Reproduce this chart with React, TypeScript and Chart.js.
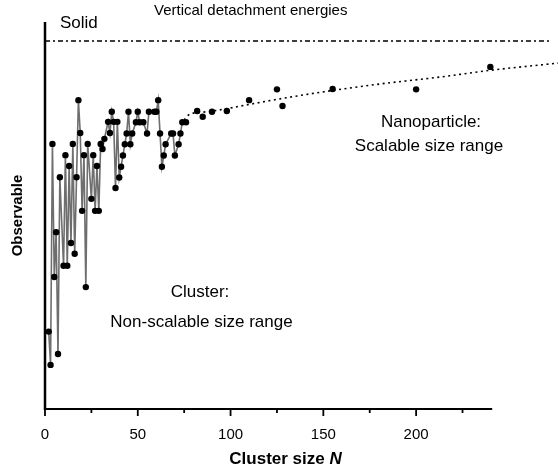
import { useEffect, useRef } from 'react';
import { Chart, registerables } from 'chart.js';

Chart.register(...registerables);

const FONT = '"Liberation Sans", Arial, Helvetica, sans-serif';

// Cluster regime: size N and observable (arbitrary units)
const clusterN = [
  2, 3, 4, 5, 6, 7, 8, 10, 11, 12, 13, 14, 15, 16, 17, 18, 19, 20, 21, 22, 23, 25,
  26, 27, 28, 29, 30, 31, 32, 34, 35, 36, 37, 38, 39, 40, 41, 42, 43, 44, 45, 46,
  47, 49, 50, 51, 53, 55, 56, 59, 60, 61, 62, 63, 64, 65, 68, 69, 70, 72, 73, 74, 76,
];
const clusterVal = [
  20.0, 11.4, 68.5, 34.1, 45.7, 14.2, 59.9, 37.0, 65.6, 37.0, 62.8, 42.9, 68.5, 40.1,
  59.9, 79.8, 71.3, 51.2, 65.6, 31.5, 68.5, 54.3, 65.6, 51.2, 62.8, 51.2, 68.5, 67.2,
  69.8, 74.2, 71.3, 76.8, 74.2, 57.1, 74.2, 59.8, 62.6, 65.5, 68.4, 71.2, 76.8, 68.4,
  71.2, 74.1, 76.8, 74.1, 74.1, 71.2, 76.8, 76.8, 76.8, 79.8, 71.2, 62.6, 65.5, 68.4,
  71.2, 71.2, 65.5, 68.4, 71.2, 74.1, 74.1,
];

// Nanoparticle regime
const nanoN = [82, 85, 90, 98, 110, 125, 128, 155, 200, 240];
const nanoVal = [77.0, 75.5, 76.8, 77.0, 79.8, 82.6, 78.3, 82.7, 82.6, 88.4];

// Scaling trend through the nanoparticle points
const fitN = [74.9, 78.1, 85.1, 94.3, 110, 121.4, 136, 154.9, 180.8, 213.2, 239.7, 277];
const fitVal = [74.7, 76.2, 76.7, 77.3, 78.7, 79.7, 80.9, 82.3, 84.0, 85.8, 87.5, 89.4];

// Bulk (solid) limit
const solidN = [0, 271.6];
const solidVal = [95.1, 95.1];

// Axis
const xMax = 277;
const xAxisEnd = 241;
const xTickValues = [0, 25, 50, 75, 100, 125, 150, 175, 200, 225];
const xLabelValues = [0, 50, 100, 150, 200];

const framePlugin = {
  id: 'frame',
  afterDraw(chart: any) {
    const { ctx, chartArea } = chart;
    const x = chart.scales.x;
    ctx.save();
    ctx.strokeStyle = '#000';
    ctx.lineCap = 'butt';

    // y axis line
    ctx.lineWidth = 2.5;
    ctx.beginPath();
    ctx.moveTo(chartArea.left, chartArea.top);
    ctx.lineTo(chartArea.left, chartArea.bottom + 1);
    ctx.stroke();

    // x axis line, stopping at the end of the size range
    ctx.lineWidth = 2;
    const xEnd = x.getPixelForValue(xAxisEnd);
    ctx.beginPath();
    ctx.moveTo(chartArea.left - 1, chartArea.bottom);
    ctx.lineTo(xEnd, chartArea.bottom);
    ctx.stroke();

    // outward tick marks
    ctx.lineWidth = 1.8;
    for (const v of xTickValues) {
      const px = x.getPixelForValue(v);
      const len = v % 50 === 0 ? 7 : 4;
      ctx.beginPath();
      ctx.moveTo(px, chartArea.bottom);
      ctx.lineTo(px, chartArea.bottom + len);
      ctx.stroke();
    }

    ctx.fillStyle = '#000';
    ctx.textBaseline = 'alphabetic';

    // x axis title with italic N
    const t1 = 'Cluster size ';
    const t2 = 'N';
    ctx.font = `bold 17px ${FONT}`;
    const w1 = ctx.measureText(t1).width;
    ctx.font = `italic bold 17px ${FONT}`;
    const w2 = ctx.measureText(t2).width;
    const startX = 285.5 - (w1 + w2) / 2;
    ctx.textAlign = 'left';
    ctx.font = `bold 17px ${FONT}`;
    ctx.fillText(t1, startX, 464);
    ctx.font = `italic bold 17px ${FONT}`;
    ctx.fillText(t2, startX + w1, 464);

    // annotations
    ctx.font = `15px ${FONT}`;
    ctx.textAlign = 'left';
    ctx.fillText('Vertical detachment energies', 154, 15);
    ctx.font = `17px ${FONT}`;
    ctx.fillText('Solid', 60, 28);

    ctx.textAlign = 'center';
    ctx.fillText('Cluster:', 200, 297);
    ctx.fillText('Non-scalable size range', 201.5, 327);
    ctx.fillText('Nanoparticle:', 431, 127);
    ctx.fillText('Scalable size range', 429, 151);
    ctx.restore();
  },
};

export default function App() {
  const canvasRef = useRef<HTMLCanvasElement | null>(null);

  useEffect(() => {
    const canvas = canvasRef.current;
    if (!canvas) return;

    const chart = new Chart(canvas, {
      type: 'line',
      data: {
        datasets: [
          {
            label: 'Solid',
            data: solidN.map((n, i) => ({ x: n, y: solidVal[i] })),
            borderColor: '#000',
            borderWidth: 1.6,
            borderDash: [5, 3, 2, 3],
            pointRadius: 0,
            fill: false,
          },
          {
            label: 'Scaling',
            data: fitN.map((n, i) => ({ x: n, y: fitVal[i] })),
            borderColor: '#000',
            borderWidth: 1.6,
            borderDash: [2, 3.5],
            pointRadius: 0,
            cubicInterpolationMode: 'monotone',
            fill: false,
          },
          {
            label: 'Clusters',
            data: clusterN.map((n, i) => ({ x: n, y: clusterVal[i] })),
            borderColor: '#6e6e6e',
            borderWidth: 1.6,
            pointRadius: 3.2,
            pointBackgroundColor: '#000',
            pointBorderColor: '#000',
            pointBorderWidth: 0,
            tension: 0,
            fill: false,
          },
          {
            label: 'Nanoparticles',
            data: nanoN.map((n, i) => ({ x: n, y: nanoVal[i] })),
            showLine: false,
            pointRadius: 3.2,
            pointBackgroundColor: '#000',
            pointBorderColor: '#000',
            pointBorderWidth: 0,
          },
        ],
      },
      options: {
        responsive: false,
        animation: false,
        layout: { padding: { top: 22, left: 0, right: 0, bottom: 0 } },
        plugins: {
          legend: { display: false },
          tooltip: { enabled: false },
        },
        scales: {
          x: {
            type: 'linear',
            min: 0,
            max: xMax,
            grid: {
              display: true,
              drawOnChartArea: false,
              drawTicks: true,
              tickLength: 17,
              color: 'rgba(0,0,0,0)',
            },
            border: { display: false },
            ticks: {
              stepSize: 25,
              autoSkip: false,
              maxRotation: 0,
              padding: 0,
              color: '#000',
              font: { family: FONT, size: 15 },
              callback: (v: any) => (xLabelValues.includes(Number(v)) ? String(v) : ''),
            },
            afterFit: (scale: any) => {
              scale.height = 64;
            },
          },
          y: {
            type: 'linear',
            min: 0,
            max: 100,
            grid: { display: false, drawTicks: false },
            border: { display: false },
            ticks: { display: false },
            title: {
              display: true,
              text: 'Observable',
              color: '#000',
              font: { family: FONT, size: 15, weight: 'bold' },
              padding: { top: 9, bottom: 0 },
            },
            afterFit: (scale: any) => {
              scale.width = 45;
            },
          },
        },
      },
      plugins: [framePlugin],
    } as any);

    return () => chart.destroy();
  }, []);

  // The canvas runs a few pixels past the frame so the trend line reaches its right edge.
  return (
    <div
      style={{
        position: 'absolute',
        left: 0,
        top: 0,
        width: 558,
        height: 473,
        overflow: 'hidden',
        background: '#fff',
      }}
    >
      <canvas ref={canvasRef} width={563} height={473} style={{ display: 'block' }} />
    </div>
  );
}
